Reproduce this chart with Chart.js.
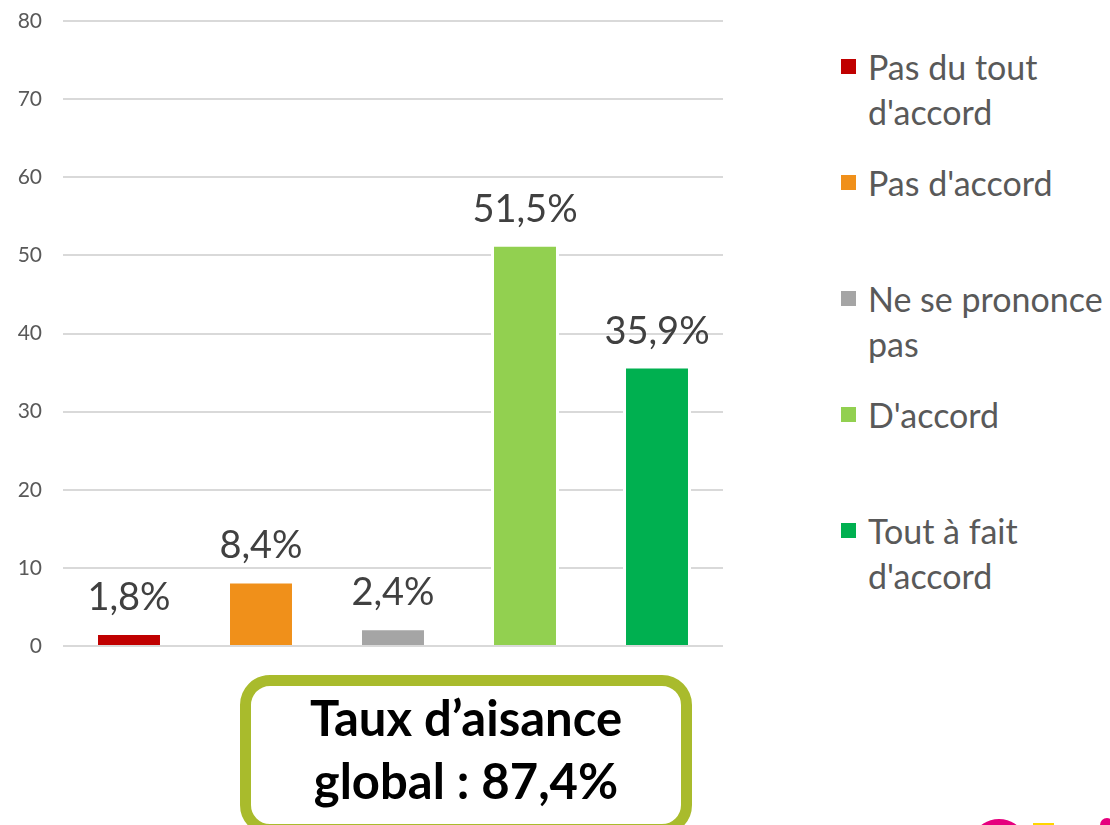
<!DOCTYPE html>
<html>
<head>
<meta charset="utf-8">
<script src="https://cdn.jsdelivr.net/npm/chart.js@4"></script>
<style>
  body { margin: 0; background: #fff; width: 1110px; height: 825px; overflow: hidden; position: relative; font-family: Lato, sans-serif; }
  #chart-wrap { position: absolute; left: 0; top: 0; width: 740px; height: 670px; }
  .legend-item { position: absolute; left: 841px; font-size: 34px; line-height: 45px; color: #595959; }
  .legend-item .sw { position: absolute; left: 0; top: 15px; width: 15px; height: 15px; }
  .legend-item .txt { position: absolute; left: 27px; white-space: nowrap; }
  #rate-box { position: absolute; left: 240px; top: 675px; width: 452px; height: 160px; box-sizing: border-box; border: 11px solid #A9BB2C; border-radius: 30px; }
  #rate-text { position: absolute; left: 240px; top: 686px; width: 452px; text-align: center; font-weight: bold; font-size: 49px; line-height: 63px; color: #000; }
  .logo { position: absolute; }
</style>
</head>
<body>
<div id="chart-wrap"><canvas id="bar-chart" width="740" height="670"></canvas></div>
<div id="legend"></div>
<div id="rate-box"></div>
<div id="rate-text">Taux d’aisance<br>global : 87,4%</div>
<div class="logo" style="left:977px; top:819px; width:44px; height:30px; border-radius:50%; background:#E6007E;"></div>
<div class="logo" style="left:1033px; top:823px; width:21px; height:6px; background:#FFD500;"></div>
<div class="logo" style="left:1100px; top:818px; width:14px; height:14px; border-radius:50%; background:#E6007E;"></div>

<script>
const categories = [
  ['Pas du tout', "d'accord"],
  ["Pas d'accord"],
  ['Ne se prononce', 'pas'],
  ["D'accord"],
  ['Tout à fait', "d'accord"]
]
const values = [1.8, 8.4, 2.4, 51.5, 35.9]
const colors = ['#C00000', '#F0901A', '#A5A5A5', '#92D050', '#00B050']
const yTicks = [0, 10, 20, 30, 40, 50, 60, 70, 80]

const fmt = v => v.toFixed(1).replace('.', ',') + '%'

// percent labels above each bar
const valueLabels = {
  id: 'valueLabels',
  afterDatasetsDraw(chart) {
    const ctx = chart.ctx
    const meta = chart.getDatasetMeta(0)
    ctx.save()
    ctx.font = '38px Lato'
    ctx.fillStyle = '#404040'
    ctx.textAlign = 'center'
    ctx.textBaseline = 'alphabetic'
    meta.data.forEach((bar, i) => {
      ctx.fillText(fmt(values[i]), bar.x, bar.y - 22)
    })
    ctx.restore()
  }
}

function renderLegend() {
  const legend = document.getElementById('legend')
  legend.innerHTML = categories.map((lines, i) => `
    <div class="legend-item" style="top:${44 + i * 116}px">
      <div class="sw" style="background:${colors[i]}"></div>
      <div class="txt">${lines.join('<br>')}</div>
    </div>
  `).join('')
}

function renderChart() {
  const ctx = document.getElementById('bar-chart').getContext('2d')
  new Chart(ctx, {
    type: 'bar',
    data: {
      labels: categories,
      datasets: [{
        data: values,
        backgroundColor: colors,
        borderColor: '#ffffff',
        borderWidth: 3,
        categoryPercentage: 1,
        barPercentage: 0.515
      }]
    },
    options: {
      responsive: false,
      animation: false,
      layout: { padding: { top: 21, right: 17, bottom: 24, left: 0 } },
      plugins: { legend: { display: false }, tooltip: { enabled: false } },
      scales: {
        x: { display: false },
        y: {
          min: 0,
          max: 80,
          afterFit: axis => {
            axis.width = 63
            axis.paddingTop = 0
            axis.paddingBottom = 0
          },
          afterBuildTicks: axis => { axis.ticks = yTicks.map(v => ({ value: v })) },
          border: { display: false },
          grid: { color: '#D9D9D9', lineWidth: 2, drawTicks: false },
          ticks: { color: '#595959', font: { family: 'Lato', size: 21 }, padding: 21 }
        }
      }
    },
    plugins: [valueLabels]
  })
}

renderLegend()
renderChart()
</script>
</body>
</html>
